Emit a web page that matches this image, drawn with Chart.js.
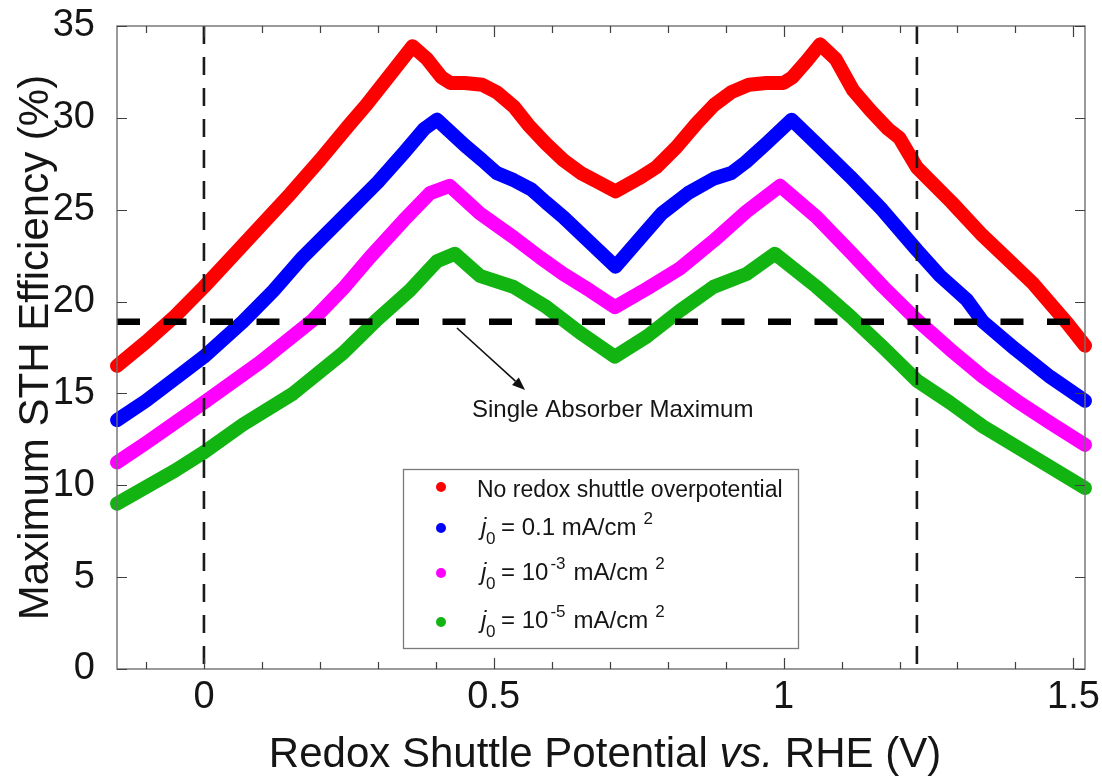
<!DOCTYPE html>
<html>
<head>
<meta charset="utf-8">
<script src="https://cdn.jsdelivr.net/npm/chart.js@4.4.1/dist/chart.umd.min.js"></script>
<style>
html,body{margin:0;padding:0;background:#ffffff;overflow:hidden;}
#box{position:relative;width:1102px;height:778px;}
</style>
</head>
<body>
<div id="box"><canvas id="chart" width="1102" height="778"></canvas></div>
<script>
// ---------- data ----------
const redX   = [-0.15,-0.10,-0.05,0.00,0.05,0.10,0.15,0.20,0.25,0.28,0.32,0.36,0.385,0.41,0.425,0.45,0.48,0.505,0.535,0.56,0.59,0.62,0.65,0.68,0.71,0.75,0.78,0.815,0.85,0.88,0.91,0.94,0.97,1.00,1.015,1.04,1.063,1.09,1.12,1.15,1.18,1.20,1.23,1.29,1.34,1.37,1.43,1.49,1.52];
const redY   = [16.5,17.8,19.2,20.8,22.5,24.2,25.9,27.7,29.6,30.7,32.3,33.9,33.2,32.2,31.9,31.9,31.8,31.4,30.6,29.6,28.6,27.7,27.0,26.5,26.0,26.7,27.3,28.4,29.7,30.7,31.4,31.8,31.9,31.9,32.2,33.1,34.0,33.2,31.5,30.4,29.4,28.9,27.3,25.4,23.7,22.8,21.0,18.8,17.6];

const blueX  = [-0.15,-0.10,-0.05,0.00,0.067,0.12,0.17,0.24,0.30,0.345,0.38,0.402,0.45,0.48,0.505,0.535,0.565,0.59,0.62,0.65,0.68,0.71,0.765,0.79,0.835,0.88,0.91,0.935,0.97,1.014,1.06,1.115,1.17,1.23,1.27,1.316,1.344,1.40,1.46,1.52];
const blueY  = [13.55,14.6,15.8,17.0,18.9,20.6,22.4,24.6,26.5,28.1,29.4,29.9,28.5,27.7,27.0,26.6,26.1,25.4,24.6,23.7,22.8,21.9,23.9,24.8,25.9,26.7,27.0,27.6,28.6,29.9,28.5,26.8,25.0,22.8,21.4,20.1,18.9,17.4,15.9,14.6];

const magX   = [-0.15,-0.10,-0.05,0.00,0.097,0.188,0.24,0.286,0.344,0.39,0.424,0.476,0.534,0.58,0.62,0.666,0.709,0.764,0.821,0.879,0.936,0.994,1.057,1.115,1.172,1.23,1.287,1.344,1.402,1.46,1.52];
const magY   = [11.25,12.3,13.4,14.5,16.7,19.0,20.7,22.4,24.4,25.9,26.3,24.8,23.5,22.4,21.5,20.6,19.7,20.7,21.8,23.3,24.9,26.3,24.6,22.7,20.8,19.0,17.4,15.9,14.6,13.4,12.2];

const greenX = [-0.15,-0.10,-0.05,0.00,0.067,0.154,0.24,0.298,0.355,0.402,0.433,0.476,0.534,0.591,0.649,0.709,0.764,0.821,0.879,0.936,0.985,1.057,1.115,1.172,1.23,1.287,1.344,1.402,1.46,1.52];
const greenY = [9.0,9.9,10.8,11.8,13.3,15.0,17.2,19.0,20.6,22.2,22.6,21.4,20.8,19.7,18.3,17.0,18.1,19.5,20.8,21.5,22.6,20.8,19.2,17.5,15.7,14.5,13.2,12.1,11.0,9.85];

const seriesLabels = ['No redox shuttle overpotential','j0 = 0.1 mA/cm2','j0 = 10-3 mA/cm2','j0 = 10-5 mA/cm2'];
const seriesColors = ['#ff0000','#0000ff','#ff00ff','#12b412'];

const singleAbsorberMax = 18.9;           // horizontal dashed line (%)
const singleAbsorberSpan = [-0.15, 1.50]; // x extent of the dashed line
const markerPotentials = [0, 1.23];       // vertical dashed lines (V)

const xMajorTicks = [0, 0.5, 1, 1.5];
const xTickLabels = ['0', '0.5', '1', '1.5'];
const xMinorTicks = [-0.1,0,0.1,0.2,0.3,0.4,0.5,0.6,0.7,0.8,0.9,1.0,1.1,1.2,1.3,1.4,1.5];
const yTicks = [0, 5, 10, 15, 20, 25, 30, 35];
const yTickLabels = ['0','5','10','15','20','25','30','35'];

const xTitleParts = [['Redox Shuttle Potential ', false], ['vs.', true], [' RHE (V)', false]];
const yTitle = 'Maximum STH Efficiency (%)';
const annotationText = 'Single Absorber Maximum';

// ---------- helpers ----------
const FONT = '"Liberation Sans", Arial, Helvetica, sans-serif';
function pts(xs, ys){ const n = Math.min(xs.length, ys.length); const o = []; for (let i=0;i<n;i++) o.push({x:xs[i], y:ys[i]}); return o; }

function curve(label, xs, ys, color){
  return { label, data: pts(xs, ys), borderColor: color, backgroundColor: color,
    borderWidth: 14, pointRadius: 0, borderCapStyle: 'round', borderJoinStyle: 'round',
    tension: 0, clip: 14, order: 2 };
}

const datasets = [
  curve(seriesLabels[0], redX, redY, seriesColors[0]),
  curve(seriesLabels[1], blueX, blueY, seriesColors[1]),
  curve(seriesLabels[2], magX, magY, seriesColors[2]),
  curve(seriesLabels[3], greenX, greenY, seriesColors[3]),
  { label: 'Single absorber maximum',
    data: singleAbsorberSpan.map(v => ({x: v, y: singleAbsorberMax})),
    borderColor: '#000', borderWidth: 6.5, borderDash: [23, 23.5], pointRadius: 0, order: 0 },
  ...markerPotentials.map(v => ({ label: 'E = ' + v,
    data: [{x: v, y: 35}, {x: v, y: 0}],
    borderColor: '#1a1a1a', borderWidth: 2.6, borderDash: [18, 13], pointRadius: 0, order: 1 }))
];

// legend rows: rich text pieces
const legendRows = [
  [{t: 'No redox shuttle overpotential'}],
  [{t: 'j', it: true}, {t: '0', sub: true}, {t: '= 0.1 mA/cm'}, {t: '2', sup: true, gap: 7}],
  [{t: 'j', it: true}, {t: '0', sub: true}, {t: '= 10'}, {t: '-3', sup: true, gap: 2}, {t: 'mA/cm', gap: 8}, {t: '2', sup: true, gap: 7}],
  [{t: 'j', it: true}, {t: '0', sub: true}, {t: '= 10'}, {t: '-5', sup: true, gap: 2}, {t: 'mA/cm', gap: 8}, {t: '2', sup: true, gap: 7}]
];

const decor = {
  id: 'decor',
  afterDatasetsDraw(chart){
    const {ctx, chartArea: a, scales: {x, y}} = chart;
    ctx.save();
    // frame
    ctx.strokeStyle = '#707070'; ctx.lineWidth = 1.4;
    ctx.strokeRect(a.left, a.top, a.right - a.left, a.bottom - a.top);
    // inward ticks
    ctx.strokeStyle = '#404040'; ctx.lineWidth = 1.2;
    ctx.beginPath();
    for (const v of xMinorTicks){
      const px = Math.round(x.getPixelForValue(v)) + 0.5;
      const L = xMajorTicks.some(m => Math.abs(m - v) < 1e-9) ? 11 : 7;
      ctx.moveTo(px, a.bottom); ctx.lineTo(px, a.bottom - L);
      ctx.moveTo(px, a.top); ctx.lineTo(px, a.top + L);
    }
    for (const v of yTicks){
      const py = Math.round(y.getPixelForValue(v)) + 0.5;
      ctx.moveTo(a.left, py); ctx.lineTo(a.left + 10, py);
      ctx.moveTo(a.right, py); ctx.lineTo(a.right - 10, py);
    }
    ctx.stroke();
    ctx.restore();
  },
  afterDraw(chart){
    const {ctx, chartArea: a, scales: {x, y}} = chart;
    ctx.save();
    ctx.fillStyle = '#151515';
    ctx.textBaseline = 'alphabetic';

    // x axis title (with italic "vs.")
    const xf = 42;
    let total = 0;
    for (const [t, it] of xTitleParts){ ctx.font = (it ? 'italic ' : '') + xf + 'px ' + FONT; total += ctx.measureText(t).width; }
    let cx = (a.left + a.right) / 2 + 4 - total / 2;
    for (const [t, it] of xTitleParts){ ctx.font = (it ? 'italic ' : '') + xf + 'px ' + FONT; ctx.textAlign = 'left'; ctx.fillText(t, cx, 767); cx += ctx.measureText(t).width; }

    // y axis title
    ctx.save();
    ctx.translate(48, (a.top + a.bottom) / 2);
    ctx.rotate(-Math.PI / 2);
    ctx.font = '42px ' + FONT; ctx.textAlign = 'center';
    ctx.fillText(yTitle, 0, 0);
    ctx.restore();

    // annotation arrow + text
    const x0 = x.getPixelForValue(0.4365), y0 = y.getPixelForValue(18.56);
    const x1 = x.getPixelForValue(0.554),  y1 = y.getPixelForValue(15.19);
    ctx.strokeStyle = '#111'; ctx.lineWidth = 1.6;
    const ang = Math.atan2(y1 - y0, x1 - x0);
    const hl = 13, hw = 5;
    const bx = x1 - hl * Math.cos(ang), by = y1 - hl * Math.sin(ang);
    ctx.beginPath(); ctx.moveTo(x0, y0); ctx.lineTo(bx, by); ctx.stroke();
    ctx.fillStyle = '#111';
    ctx.beginPath();
    ctx.moveTo(x1, y1);
    ctx.lineTo(bx + hw * Math.sin(ang), by - hw * Math.cos(ang));
    ctx.lineTo(bx - hw * Math.sin(ang), by + hw * Math.cos(ang));
    ctx.closePath(); ctx.fill();
    ctx.font = '24px ' + FONT; ctx.textAlign = 'left';
    ctx.fillStyle = '#151515';
    ctx.fillText(annotationText, x.getPixelForValue(0.4624), y.getPixelForValue(13.72));

    // legend box
    ctx.fillStyle = '#ffffff';
    ctx.fillRect(403, 469, 395, 179);
    ctx.strokeStyle = '#7a7a7a'; ctx.lineWidth = 1.3;
    ctx.strokeRect(403.5, 469.5, 395, 179);
    const dotY = [487, 528, 573, 622];
    const baseY = [497, 535, 580, 628];
    for (let r = 0; r < legendRows.length; r++){
      ctx.fillStyle = seriesColors[r];
      ctx.beginPath(); ctx.arc(441, dotY[r], 5, 0, Math.PI * 2); ctx.fill();
      ctx.fillStyle = '#151515';
      let px = r === 0 ? 477 : 481;
      for (const p of legendRows[r]){
        let size = r === 0 ? 23 : 24, dy = 0;
        if (p.sub){ size = 17; dy = 9; }
        if (p.sup){ size = 17; dy = -11; }
        ctx.font = (p.it ? 'italic ' : '') + size + 'px ' + FONT;
        if (p.gap) px += p.gap;
        let drawX = px;
        if (p.sub) drawX = 486;
        ctx.fillText(p.t, drawX, baseY[r] + dy);
        const w = ctx.measureText(p.t).width;
        if (p.sub) px = 501; else if (p.it) px = px + w; else px = drawX + w;
      }
    }
    ctx.restore();
  }
};

new Chart(document.getElementById('chart'), {
  type: 'line',
  data: { datasets },
  options: {
    responsive: false, animation: false, devicePixelRatio: 1,
    layout: { padding: { top: 26, right: 17, left: 0, bottom: 0 } },
    plugins: { legend: { display: false }, tooltip: { enabled: false } },
    scales: {
      x: { type: 'linear', min: -0.15, max: 1.52,
        grid: { display: false }, border: { display: false },
        afterBuildTicks(s){ s.ticks = xMajorTicks.map(v => ({value: v})); },
        afterFit(s){ s.height = 109; s.paddingLeft = 0; s.paddingRight = 0; },
        ticks: { font: { family: FONT, size: 38 }, color: '#151515', padding: -2,
          maxRotation: 0, autoSkip: false,
          callback: (v) => { const i = xMajorTicks.findIndex(m => Math.abs(m - v) < 1e-9); return i >= 0 ? xTickLabels[i] : ''; } },
        title: { display: false } },
      y: { type: 'linear', min: 0, max: 35,
        grid: { display: false }, border: { display: false },
        afterBuildTicks(s){ s.ticks = yTicks.map(v => ({value: v})); },
        afterFit(s){ s.width = 117; s.paddingTop = 0; s.paddingBottom = 0; },
        ticks: { font: { family: FONT, size: 38 }, color: '#151515', padding: 14,
          callback: (v) => { const i = yTicks.indexOf(v); return i >= 0 ? yTickLabels[i] : ''; } },
        title: { display: false } }
    }
  },
  plugins: [decor]
});
</script>
</body>
</html>
